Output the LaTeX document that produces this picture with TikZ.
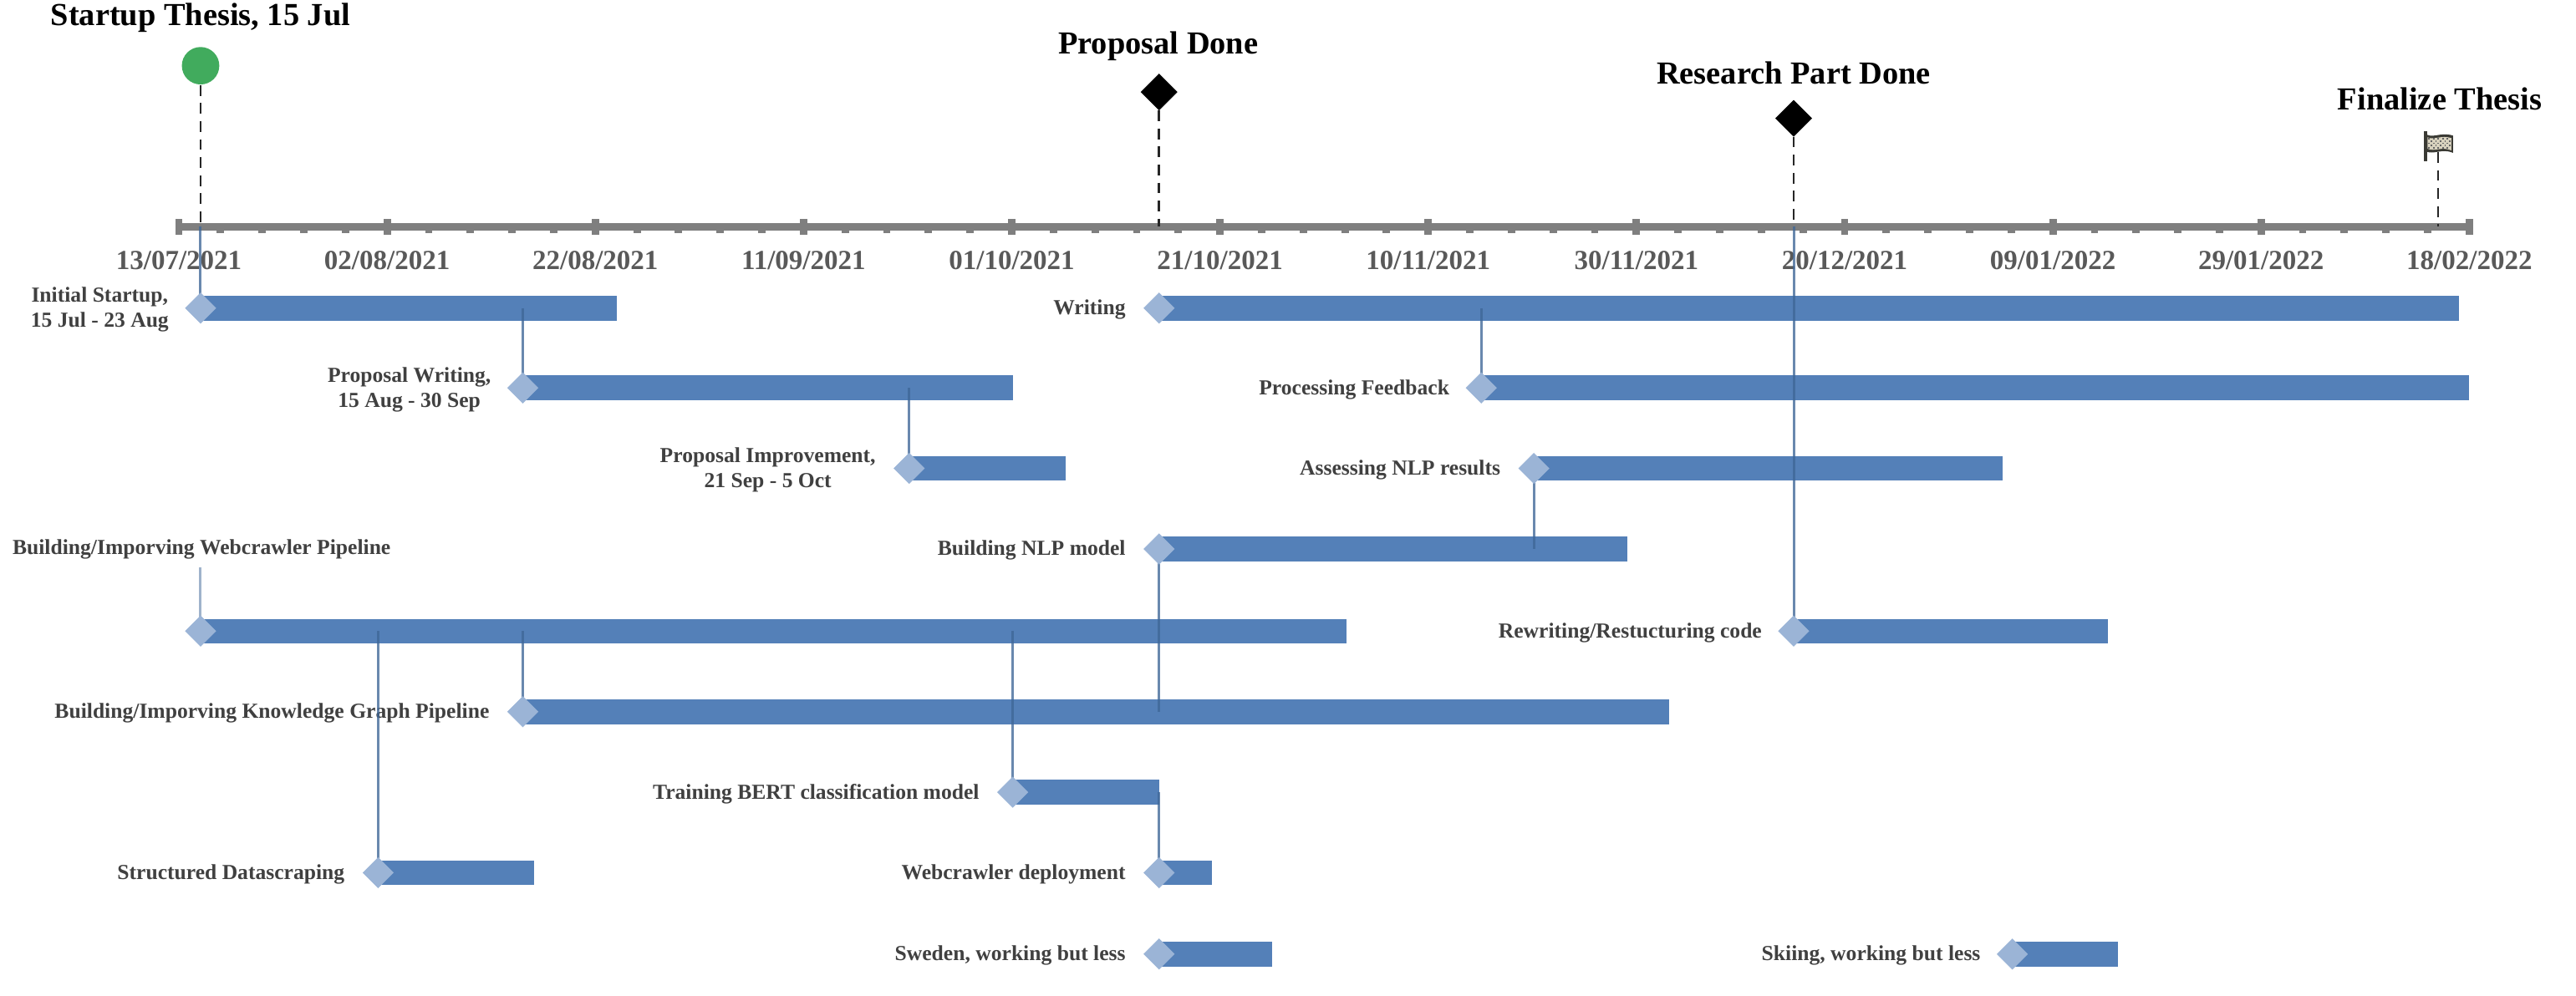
\documentclass[tikz,border=0pt]{standalone}
\usepackage{fontspec}
\setmainfont{Liberation Serif}
\usetikzlibrary{shapes.geometric}
\definecolor{barblue}{HTML}{5480B8}
\definecolor{diablue}{HTML}{9BB4D6}
\definecolor{linkblue}{HTML}{3F6797}
\definecolor{axisgrey}{HTML}{7F7F7F}
\definecolor{datetxt}{HTML}{595959}
\definecolor{tasktxt}{HTML}{404040}
\definecolor{startgreen}{HTML}{41AB5D}
\definecolor{flagfill}{HTML}{D8D2BE}
\definecolor{flagedge}{HTML}{3A3A34}
\tikzset{
 x=0.245875pt,y=-0.245875pt,
 bar/.style={fill=barblue,draw=none,inner sep=0,minimum height=7.4pt,anchor=west,rectangle,outer sep=0},
 dia/.style={diamond,fill=diablue,draw=none,inner sep=0,minimum width=9.3pt,minimum height=9.3pt,outer sep=0},
 link/.style={draw=linkblue,line width=0.75pt,opacity=0.78},
 tasklabel/.style={font=\bfseries\fontsize{6.4}{7.5}\selectfont,text=tasktxt,inner sep=0,anchor=east,align=center},
 datelabel/.style={font=\bfseries\fontsize{8.25}{10}\selectfont,text=datetxt,inner sep=0},
 title/.style={font=\bfseries\fontsize{9.6}{12}\selectfont,text=black,inner sep=0},
 mdrop/.style={draw=black!85,line width=0.65pt,dash pattern=on 3.2pt off 2.2pt},
 miledia/.style={diamond,fill=black,draw=none,inner sep=0,minimum width=11pt,minimum height=11pt,outer sep=0},
}
\newcommand{\taskbar}[6]{% name, x0, x1, y, label, labelright
 \pgfmathsetlengthmacro{\barw}{(#3-#2)*0.245875}
 \node[bar,minimum width=\barw] (b#1) at (#2,#4) {};
 \node[tasklabel] (t#1) at (#6,#4+2) {#5};
}
\begin{document}
\begin{tikzpicture}
\useasboundingbox (0,0) rectangle (3133.7,1212);
% axis
\coordinate (axL) at (217.6,276);
\coordinate (axR) at (3004,276);
\draw[axisgrey,line width=2.4pt] (axL) -- (axR);
\foreach \i in {0,...,55}{
  \pgfmathsetmacro{\xx}{217.6+\i*50.66}
  \fill[axisgrey] (\xx-4.5,276) rectangle (\xx+4.5,283.7);
}
\foreach \k/\da/\mo/\yr in {0/13/07/2021,1/02/08/2021,2/22/08/2021,3/11/09/2021,4/01/10/2021,5/21/10/2021,6/10/11/2021,7/30/11/2021,8/20/12/2021,9/09/01/2022,10/29/01/2022,11/18/02/2022}{
  \pgfmathsetmacro{\xx}{217.6+\k*253.3}
  \fill[axisgrey] (\xx-4.5,266.4) rectangle (\xx+4.5,285.7);
  \node[datelabel] (d\k) at (\xx,317) {\da/\mo/\yr};
}
% bars
\taskbar{a}{244}{750}{375}{Initial Startup,\\15 Jul - 23 Aug}{206}
\taskbar{b}{636}{1232}{472}{Proposal Writing,\\15 Aug - 30 Sep}{598}
\taskbar{c}{1106}{1296}{570}{Proposal Improvement,\\21 Sep - 5 Oct}{1066}
\taskbar{d}{244}{1638}{768}{}{200}
\node[tasklabel] (td) at (476,668) {Building/Imporving Webcrawler Pipeline};
\taskbar{e}{636}{2030}{866}{Building/Imporving Knowledge Graph Pipeline}{596}
\taskbar{f}{1232}{1410}{964}{Training BERT classification model}{1192}
\taskbar{g}{460}{650}{1062}{Structured Datascraping}{420}
\taskbar{h}{1410}{1474}{1062}{Webcrawler deployment}{1370}
\taskbar{i}{1410}{1548}{1161}{Sweden, working but less}{1370}
\taskbar{j}{2448}{2576}{1161}{Skiing, working but less}{2410}
\taskbar{k}{1410}{2991}{375}{Writing}{1370}
\taskbar{l}{1802}{3004}{472}{Processing Feedback}{1764}
\taskbar{m}{1866}{2436}{570}{Assessing NLP results}{1826}
\taskbar{n}{1410}{1980}{668}{Building NLP model}{1370}
\taskbar{o}{2182}{2564}{768}{Rewriting/Restucturing code}{2144}
% diamond positions
\foreach \n in {a,b,c,d,e,f,g,h,i,j,k,l,m,n,o}{\coordinate (c\n) at (b\n.west);}
% milestones
\node[circle,fill=startgreen,draw=none,inner sep=0,minimum size=11.2pt] (m1) at (244,80) {};
\node[miledia] (m2) at (1410,112) {};
\node[miledia] (m3) at (2182,144) {};
\coordinate (m4) at (2966,185);
\node[title] (tm1) at (244,22) {Startup Thesis, 15 Jul};
\node[title] (tm2) at (1409,56) {Proposal Done};
\node[title] (tm3) at (2182,89) {Research Part Done};
\node[title] (tm4) at (2968,120) {Finalize Thesis};
\coordinate (a1) at (m1.center|-axL);
\coordinate (a2) at (m2.center|-axL);
\coordinate (a3) at (m3.center|-axL);
\coordinate (a4) at (m4|-axL);
\draw[mdrop] (m1) -- (a1);
\draw[mdrop] (m2) -- (a2);
\draw[mdrop] (m3) -- (a3);
% flag
\fill[flagedge] (2949,160) rectangle (2953,196);
\fill[flagedge] (2950,162) .. controls (2958,170) and (2968,160) .. (2984,165) -- (2984,186) .. controls (2970,180) and (2962,189) .. (2950,184) -- cycle;
\fill[flagfill] (2953,167) .. controls (2960,171) and (2970,164) .. (2982,168) -- (2982,183) .. controls (2970,178) and (2962,185) .. (2953,181) -- cycle;
\foreach \ix in {0,...,9}{\foreach \iy in {0,...,4}{
  \pgfmathtruncatemacro{\chk}{mod(\ix+\iy,2)}
  \ifnum\chk=0 \fill[black!60] (2954+\ix*2.8,168+\iy*2.8) rectangle +(1.8,1.8);\fi
}}
\draw[mdrop] (m4) -- (a4);
% connectors
\draw[link] (a1) -- (ca);
\draw[link] (ba.west-|cb) -- (cb);
\draw[link] (bb.west-|cc) -- (cc);
\draw[link,opacity=0.5] (244,690) -- (cd);
\draw[link] (bd.west-|cg) -- (cg);
\draw[link] (bd.west-|ce) -- (ce);
\draw[link] (bd.west-|cf) -- (cf);
\draw[link] (cn) -- (be.west-|cn);
\draw[link] (bf.east) -- (ch);
\draw[link] (bk.west-|cl) -- (cl);
\draw[link] (cm) -- (bn.west-|cm);
\draw[link] (a3) -- (co);
\foreach \n in {a,b,c,d,e,f,g,h,i,j,k,l,m,n,o}{\node[dia] (x\n) at (c\n) {};}
\end{tikzpicture}
\end{document}
